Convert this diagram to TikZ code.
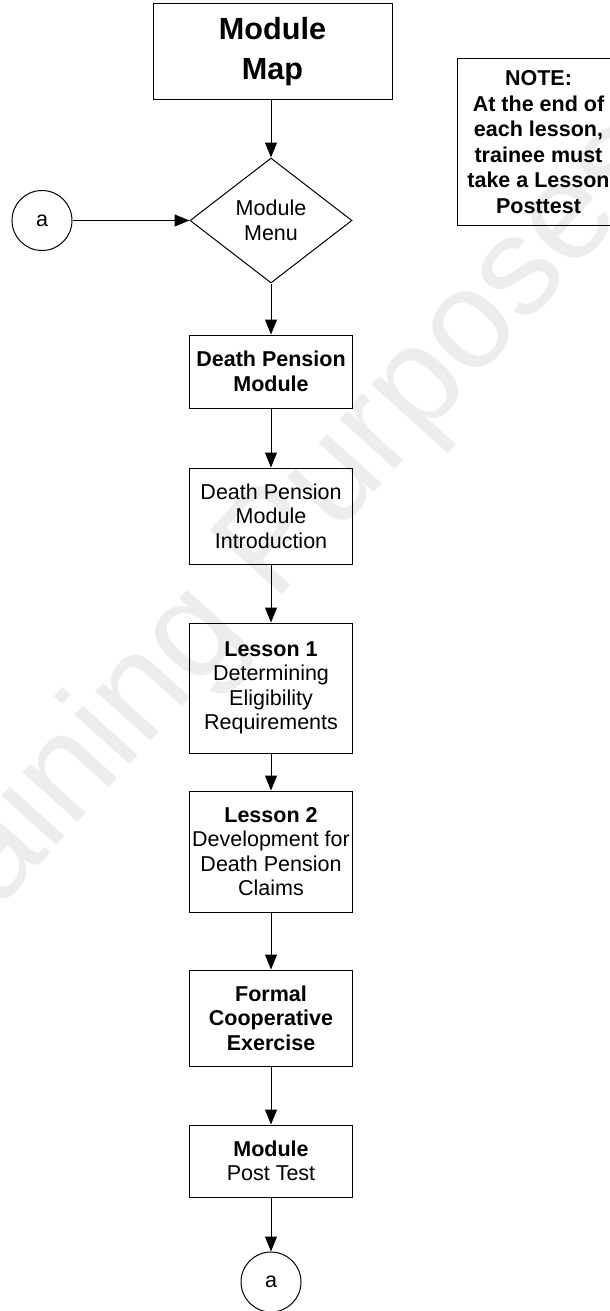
\documentclass[tikz,border=0pt]{standalone}
\usepackage{fontspec}
\setmainfont{Liberation Sans}
\usetikzlibrary{arrows.meta, shapes.geometric}

\begin{document}
\begin{tikzpicture}[
    x=1pt, y=-1pt,
    line width=1pt,
    every node/.style={font=\fontsize{21.5}{24.5}\selectfont, align=center, inner sep=0pt},
    block/.style={rectangle, draw, minimum width=163pt},
    decision/.style={diamond, draw, minimum width=162pt, minimum height=125pt},
    connector/.style={circle, draw, minimum size=60pt},
    flow/.style={-{Triangle[length=15pt, width=12pt]}}
]
\useasboundingbox (0,0) rectangle (610,1311);
% watermark
\node[text=black!7, rotate=48, font=\fontsize{140}{140}\selectfont] (mark) at (265,560) {Training Purposes};

\node[block, minimum width=239pt, minimum height=96pt, font=\bfseries\fontsize{30.6}{40}\selectfont] (map) at (272.5,52) {Module\\Map};
    \node[decision] (menu) at (271,220.5) {Module\\Menu};
    \node[connector] (ain) at (42,220.5) {a};
    \node[block, minimum height=166pt, font=\bfseries\fontsize{21.5}{25.5}\selectfont] (note) at (538.5,142) {NOTE:\\At the end of\\each lesson,\\trainee must\\take a Lesson\\Posttest};

\node[block, minimum height=73pt, font=\bfseries\fontsize{21.5}{24.5}\selectfont] (dpm) at (271,371.5) {Death Pension\\Module};
    \node[block, minimum height=96pt] (intro) at (271,516) {Death Pension\\Module\\Introduction};
    \node[block, minimum height=130pt] (les1) at (271,688) {\textbf{Lesson 1}\\Determining\\Eligibility\\Requirements};
    \node[block, minimum height=121pt] (les2) at (271,851.5) {\textbf{Lesson 2}\\Development for\\Death Pension\\Claims};
    \node[block, minimum height=96pt, font=\bfseries\fontsize{21.5}{24.5}\selectfont] (coop) at (271,1018) {Formal\\Cooperative\\Exercise};
    \node[block, minimum height=72pt] (post) at (271,1161) {\textbf{Module}\\Post Test};
    \node[connector] (aout) at (271,1282) {a};

\draw[flow] (map.south -| menu.north) -- (menu.north);
    \draw[flow] (ain) -- (menu.west);
    \draw[flow] (menu) -- (dpm);
    \draw[flow] (dpm) -- (intro);
    \draw[flow] (intro) -- (les1);
    \draw[flow] (les1) -- (les2);
    \draw[flow] (les2) -- (coop);
    \draw[flow] (coop) -- (post);
    \draw[flow] (post) -- (aout);
\end{tikzpicture}
\end{document}
